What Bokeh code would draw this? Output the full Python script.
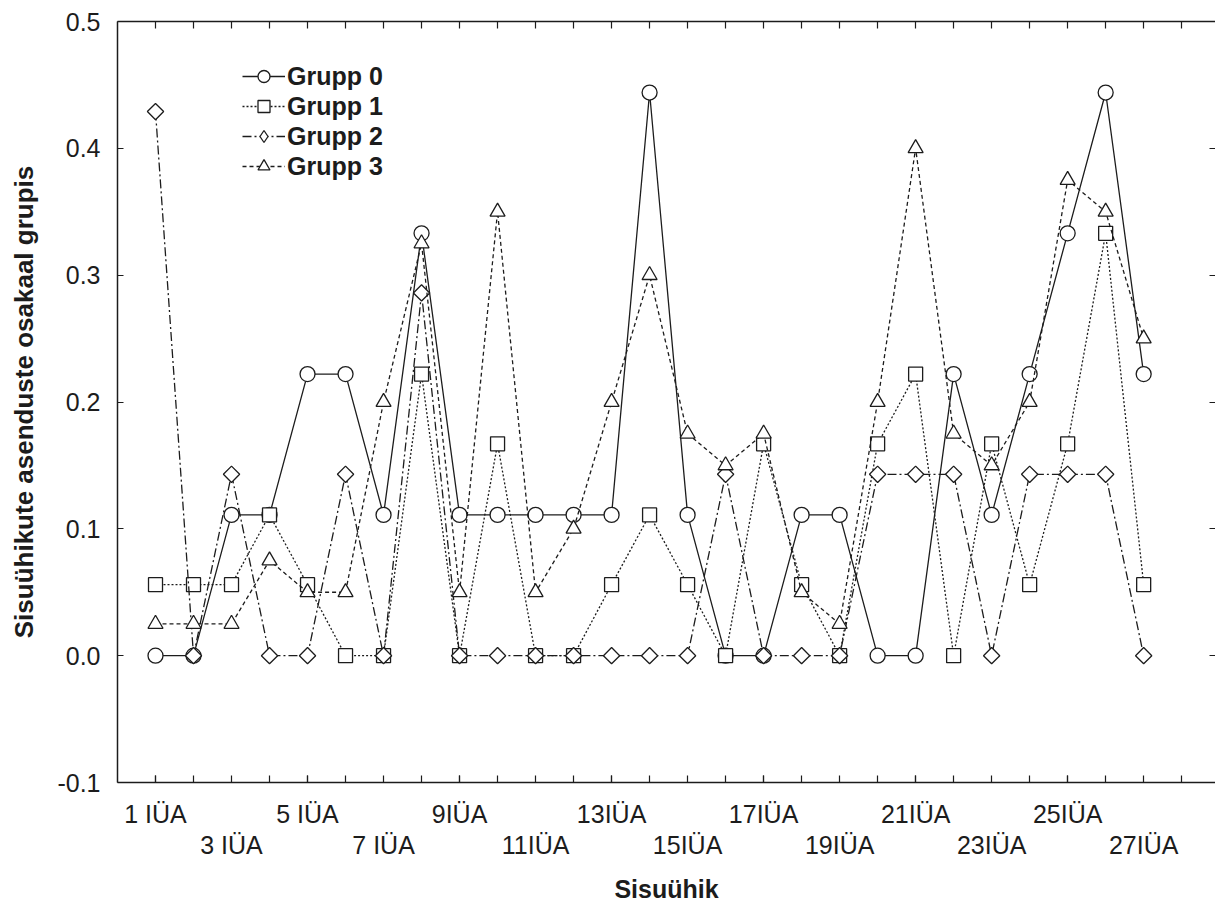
import math
from bokeh.plotting import figure
from bokeh.models import (LinearAxis, FixedTicker, Range1d, Legend, LegendItem,
                          NumeralTickFormatter, CustomJSTickFormatter, ColumnDataSource)
from bokeh.embed import file_html
from bokeh.resources import INLINE

# ---------------- data ----------------
categories = ["1 IÜA", "2 IÜA", "3 IÜA", "4 IÜA", "5 IÜA", "6 IÜA", "7 IÜA", "8 IÜA",
              "9IÜA", "10IÜA", "11IÜA", "12IÜA", "13IÜA", "14IÜA", "15IÜA", "16IÜA",
              "17IÜA", "18IÜA", "19IÜA", "20IÜA", "21IÜA", "22IÜA", "23IÜA", "24IÜA",
              "25IÜA", "26IÜA", "27IÜA"]
positions = list(range(1, len(categories) + 1))

grupp0 = [0, 0, 0.111, 0.111, 0.222, 0.222, 0.111, 0.333, 0.111, 0.111, 0.111, 0.111,
          0.111, 0.444, 0.111, 0, 0, 0.111, 0.111, 0, 0, 0.222, 0.111, 0.222, 0.333,
          0.444, 0.222]
grupp1 = [0.056, 0.056, 0.056, 0.111, 0.056, 0, 0, 0.222, 0, 0.167, 0, 0, 0.056, 0.111,
          0.056, 0, 0.167, 0.056, 0, 0.167, 0.222, 0, 0.167, 0.056, 0.167, 0.333, 0.056]
grupp2 = [0.429, 0, 0.143, 0, 0, 0.143, 0, 0.286, 0, 0, 0, 0, 0, 0, 0, 0.143, 0, 0, 0,
          0.143, 0.143, 0.143, 0, 0.143, 0.143, 0.143, 0]
grupp3 = [0.025, 0.025, 0.025, 0.075, 0.05, 0.05, 0.2, 0.325, 0.05, 0.35, 0.05, 0.1,
          0.2, 0.3, 0.175, 0.15, 0.175, 0.05, 0.025, 0.2, 0.4, 0.175, 0.15, 0.2, 0.375,
          0.35, 0.25]
series_names = ["Grupp 0", "Grupp 1", "Grupp 2", "Grupp 3"]
y_ticks = [-0.1, 0.0, 0.1, 0.2, 0.3, 0.4, 0.5]

x_title = "Sisuühik"
y_title = "Sisuühikute asenduste osakaal grupis"

# ---------------- figure ----------------
FONT = "Liberation Sans"
INK = "#1c1c1c"

p = figure(width=1215, height=905,
           x_range=Range1d(0, 28.89), y_range=Range1d(-0.1, 0.5),
           x_axis_location=None, y_axis_location=None,
           toolbar_location=None, output_backend="svg",
           min_border_left=117, min_border_right=0,
           min_border_top=21, min_border_bottom=118)
p.outline_line_color = None
p.background_fill_color = "white"
p.border_fill_color = "white"
p.grid.visible = False

all_ticks = list(range(1, len(categories) + 2))
row1 = [t for t in positions if t % 4 == 1]
row2 = [t for t in positions if t % 4 == 3]

label_js = """
    const i = Math.round(tick) - 1;
    return (i >= 0 && i < labels.length) ? labels[i] : '';
"""

def style_axis(ax):
    ax.axis_line_color = INK
    ax.axis_line_width = 1.5
    ax.major_tick_line_color = INK
    ax.major_tick_line_width = 1.2
    ax.major_tick_in = 7
    ax.major_tick_out = 0
    ax.minor_tick_line_color = INK
    ax.minor_tick_line_width = 1.2
    ax.minor_tick_in = 7
    ax.minor_tick_out = 0
    ax.major_label_text_font = FONT
    ax.major_label_text_font_size = "25px"
    ax.major_label_text_color = INK
    ax.axis_label_text_font = FONT
    ax.axis_label_text_font_style = "bold"
    ax.axis_label_text_color = INK

# bottom axis: first row of labels + tick marks at every category
ax_a = LinearAxis(ticker=FixedTicker(ticks=row1, minor_ticks=all_ticks),
                  formatter=CustomJSTickFormatter(args=dict(labels=categories), code=label_js))
style_axis(ax_a)
ax_a.major_label_standoff = 17
p.add_layout(ax_a, "below")

# bottom axis: second row of labels and the axis title
ax_b = LinearAxis(ticker=FixedTicker(ticks=row2),
                  formatter=CustomJSTickFormatter(args=dict(labels=categories), code=label_js),
                  axis_label=x_title)
style_axis(ax_b)
ax_b.axis_line_color = None
ax_b.major_tick_line_color = None
ax_b.minor_tick_line_color = None
ax_b.major_tick_in = 0
ax_b.major_label_standoff = 0
ax_b.axis_label_standoff = 13
ax_b.axis_label_text_font_size = "25px"
p.add_layout(ax_b, "below")

# left axis
ax_l = LinearAxis(ticker=FixedTicker(ticks=y_ticks),
                  formatter=NumeralTickFormatter(format="0.0"),
                  axis_label=y_title)
style_axis(ax_l)
ax_l.major_tick_in = 6
ax_l.major_label_standoff = 17
ax_l.axis_label_standoff = 15
ax_l.axis_label_text_font_size = "26px"
p.add_layout(ax_l, "left")

# top axis (tick marks only)
ax_t = LinearAxis(ticker=FixedTicker(ticks=[], minor_ticks=all_ticks))
style_axis(ax_t)
ax_t.major_label_standoff = 0
p.add_layout(ax_t, "above")

# right axis (tick marks only; the frame edge sits at the window edge)
ax_r = LinearAxis(ticker=FixedTicker(ticks=[], minor_ticks=y_ticks))
style_axis(ax_r)
ax_r.axis_line_color = None
ax_r.minor_tick_in = 6
ax_r.major_label_standoff = 0
p.add_layout(ax_r, "right")

# ---------------- series ----------------
series = [grupp0, grupp1, grupp2, grupp3]
dashes = ["solid", "2 2", "9 3 2 3", "4 3"]
markers = [("circle", 15, 0.0), ("square", 14, 0.0), ("square", 11.5, math.pi / 4),
           ("triangle", 15, 0.0)]
legend_markers = ["circle", "square", "diamond", "triangle"]

items = []
for name, vals, dash, (mk, sz, ang), lmk in zip(series_names, series, dashes, markers,
                                                 legend_markers):
    src = ColumnDataSource(dict(x=positions, y=vals))
    lr = p.line("x", "y", source=src, line_color=INK, line_width=1.3, line_dash=dash)
    key = None
    if lmk != mk:
        # upright diamond key for the legend; in the plot it is fully covered
        # by the white-filled rotated square drawn on top of it
        key = p.scatter("x", "y", source=src, marker=lmk, size=12, line_color=INK,
                        line_width=1.3, fill_color="white")
    sr = p.scatter("x", "y", source=src, marker=mk, size=sz, angle=ang,
                   line_color=INK, line_width=1.3, fill_color="white")
    items.append(LegendItem(label=name, renderers=[lr, key if key is not None else sr]))

legend = Legend(items=items, location=(125, 601), padding=0, margin=0, spacing=0,
                border_line_color=None, background_fill_alpha=0,
                label_text_font=FONT, label_text_font_size="25px",
                label_text_font_style="bold", label_text_color=INK,
                glyph_width=43, glyph_height=30, label_height=30, label_standoff=2)
p.add_layout(legend)

open("out.html", "w").write(file_html(p, INLINE))
